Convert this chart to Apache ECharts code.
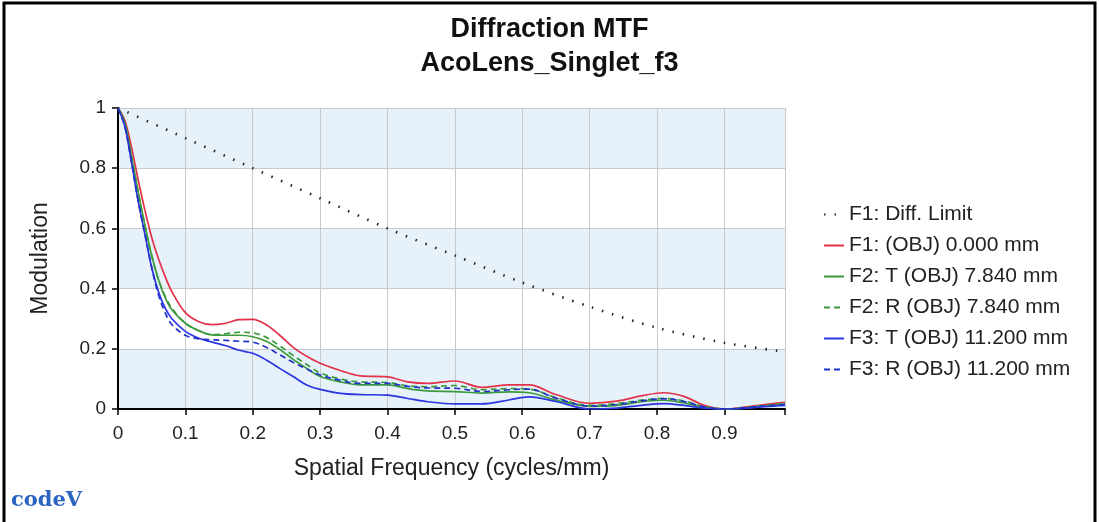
<!DOCTYPE html>
<html>
<head>
<meta charset="utf-8">
<script src="https://cdn.jsdelivr.net/npm/echarts@6/dist/echarts.min.js"></script>
<style>
  html, body { margin: 0; padding: 0; background: #fff; }
  #main { width: 1099px; height: 522px; }
</style>
</head>
<body>
<div id="main"></div>
<script>
// spatial frequency samples (cycles/mm)
var freq = [0, 0.01, 0.02, 0.03, 0.04, 0.05, 0.06, 0.07, 0.08, 0.1, 0.12, 0.14, 0.16, 0.18, 0.2,
  0.22, 0.24, 0.26, 0.28, 0.3, 0.33, 0.36, 0.4, 0.43, 0.46, 0.5, 0.54, 0.58, 0.61, 0.65, 0.7,
  0.74, 0.78, 0.81, 0.84, 0.87, 0.9, 0.93, 0.96, 0.99];

var f1 = [1.0, 0.96, 0.87, 0.76, 0.66, 0.57, 0.50, 0.44, 0.39, 0.32, 0.29, 0.28, 0.285, 0.297, 0.298,
  0.28, 0.245, 0.205, 0.175, 0.152, 0.128, 0.11, 0.107, 0.09, 0.085, 0.093, 0.072, 0.08, 0.08, 0.048, 0.019,
  0.026, 0.045, 0.054, 0.042, 0.012, 0.0, 0.006, 0.015, 0.022];
var f2T = [1.0, 0.95, 0.84, 0.72, 0.61, 0.51, 0.43, 0.37, 0.33, 0.285, 0.26, 0.246, 0.245, 0.245, 0.24,
  0.225, 0.198, 0.165, 0.135, 0.108, 0.09, 0.08, 0.08, 0.068, 0.06, 0.058, 0.053, 0.057, 0.054, 0.03, 0.009,
  0.012, 0.025, 0.029, 0.02, 0.006, 0.0, 0.003, 0.01, 0.016];
var f2R = [1.0, 0.95, 0.84, 0.72, 0.61, 0.51, 0.43, 0.375, 0.335, 0.285, 0.26, 0.247, 0.25, 0.255, 0.253,
  0.238, 0.21, 0.178, 0.148, 0.12, 0.1, 0.09, 0.088, 0.077, 0.074, 0.078, 0.064, 0.068, 0.066, 0.038, 0.012,
  0.018, 0.03, 0.035, 0.027, 0.008, 0.0, 0.004, 0.012, 0.018];
var f3T = [1.0, 0.94, 0.82, 0.69, 0.58, 0.47, 0.39, 0.335, 0.3, 0.258, 0.235, 0.222, 0.21, 0.195, 0.185,
  0.163, 0.135, 0.108, 0.08, 0.065, 0.052, 0.048, 0.046, 0.035, 0.024, 0.017, 0.017, 0.03, 0.04, 0.025, 0.0,
  0.003, 0.013, 0.018, 0.012, 0.003, 0.0, 0.002, 0.008, 0.012];
var f3R = [1.0, 0.94, 0.82, 0.69, 0.58, 0.47, 0.38, 0.32, 0.28, 0.245, 0.233, 0.23, 0.228, 0.225, 0.222,
  0.205, 0.18, 0.155, 0.133, 0.113, 0.095, 0.085, 0.085, 0.075, 0.07, 0.069, 0.058, 0.064, 0.066, 0.036, 0.01,
  0.015, 0.028, 0.034, 0.025, 0.007, 0.0, 0.004, 0.01, 0.015];

// diffraction limit
var freqDiff = [0, 0.1, 0.2, 0.3, 0.4, 0.5, 0.6, 0.7, 0.8, 0.9, 0.99];
var diffLimit = [1.0, 0.9, 0.8, 0.7, 0.6, 0.51, 0.42, 0.34, 0.27, 0.22, 0.19];

var names = ['F1: Diff. Limit', 'F1: (OBJ) 0.000 mm', 'F2: T (OBJ) 7.840 mm', 'F2: R (OBJ) 7.840 mm',
  'F3: T (OBJ) 11.200 mm', 'F3: R (OBJ) 11.200 mm'];

function pairs(xs, ys) {
  return xs.map(function (x, i) { return [x, ys[i]]; });
}

var font = 'Liberation Sans, Arial, sans-serif';

function mtfLine(name, ys, color, type) {
  return {
    name: name,
    type: 'line',
    data: pairs(freq, ys),
    smooth: 0.35,
    showSymbol: false,
    symbol: 'none',
    lineStyle: { color: color, width: 1.7, type: type },
    itemStyle: { color: color },
    z: 3
  };
}

var chart = echarts.init(document.getElementById('main'));
chart.setOption({
  animation: false,
  backgroundColor: '#fff',
  title: {
    text: 'Diffraction MTF\nAcoLens_Singlet_f3',
    left: 'center',
    top: 8,
    textStyle: { fontFamily: font, fontSize: 27, fontWeight: 'bold', color: '#111', lineHeight: 34 }
  },
  graphic: [
    {
      type: 'rect',
      shape: { x: 4, y: 3, width: 1091, height: 530 },
      style: { fill: 'none', stroke: '#000', lineWidth: 3 },
      silent: true
    },
    {
      type: 'text',
      left: 11,
      top: 490,
      style: { text: 'codeV', fill: '#2a63c0', font: 'bold 21px "DejaVu Serif", serif' }
    }
  ],
  legend: {
    orient: 'vertical',
    left: 818,
    top: 199,
    itemGap: 10,
    itemWidth: 20,
    itemHeight: 14,
    data: names,
    itemStyle: { opacity: 0 },
    textStyle: { fontFamily: font, fontSize: 21, color: '#222' }
  },
  grid: { left: 118, right: 314, top: 108, bottom: 113 },
  xAxis: {
    type: 'value',
    min: 0,
    max: 0.99,
    interval: 0.1,
    name: 'Spatial Frequency (cycles/mm)',
    nameLocation: 'middle',
    nameGap: 48,
    nameTextStyle: { fontFamily: font, fontSize: 23, color: '#222' },
    axisLine: { onZero: false, lineStyle: { color: '#000', width: 2 } },
    axisTick: { show: true, length: 6, lineStyle: { color: '#000', width: 1.5 } },
    axisLabel: {
      fontFamily: font, fontSize: 19, color: '#222', margin: 15,
      formatter: function (v) { return v > 0.95 ? '' : String(Math.round(v * 10) / 10); }
    },
    splitLine: { show: true, lineStyle: { color: '#c9c9c9', width: 1 } }
  },
  yAxis: {
    type: 'value',
    min: 0,
    max: 1,
    interval: 0.2,
    name: 'Modulation',
    nameLocation: 'middle',
    nameGap: 66,
    nameTextStyle: { fontFamily: font, fontSize: 23, color: '#222' },
    axisLine: { show: true, lineStyle: { color: '#000', width: 2 } },
    axisTick: { show: true, length: 6, lineStyle: { color: '#000', width: 1.5 } },
    axisLabel: {
      fontFamily: font, fontSize: 19, color: '#222', margin: 12,
      formatter: function (v) { return String(Math.round(v * 10) / 10); }
    },
    splitLine: { show: true, lineStyle: { color: '#c9c9c9', width: 1 } },
    splitArea: { show: true, areaStyle: { color: ['#e7f1fa', '#ffffff'] } }
  },
  series: [
    {
      name: names[0],
      type: 'line',
      data: pairs(freqDiff, diffLimit),
      smooth: 0.3,
      showSymbol: false,
      symbol: 'none',
      lineStyle: { color: '#222', width: 2.6, type: [1.5, 9] },
      itemStyle: { color: '#222' },
      z: 2
    },
    mtfLine(names[1], f1, '#e2324a', 'solid'),
    mtfLine(names[2], f2T, '#3b9a3b', 'solid'),
    mtfLine(names[3], f2R, '#3b9a3b', [6, 4]),
    mtfLine(names[4], f3T, '#2b35e0', 'solid'),
    mtfLine(names[5], f3R, '#2030c8', [6, 4])
  ]
});
</script>
</body>
</html>
